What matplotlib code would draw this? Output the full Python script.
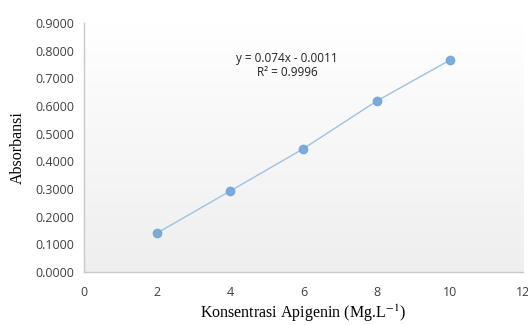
import matplotlib
matplotlib.use("Agg")
import matplotlib.pyplot as plt
import numpy as np

# data
konsentrasi = [2, 4, 6, 8, 10]
absorbansi = [0.141, 0.293, 0.446, 0.618, 0.766]
xticks = [0, 2, 4, 6, 8, 10, 12]
yticks = [0.0, 0.1, 0.2, 0.3, 0.4, 0.5, 0.6, 0.7, 0.8, 0.9]
persamaan = "y = 0.074x - 0.0011\nR² = 0.9996"

plt.rcParams["mathtext.fontset"] = "stix"

fig = plt.figure(figsize=(5.28, 3.25), dpi=100)
ax = fig.add_axes([0.159, 0.163, 0.8315, 0.766])

# gradient background of plot area (white top -> light grey bottom)
t = np.linspace(0.0, 1.0, 256).reshape(-1, 1, 1)
top = np.array([1.0, 1.0, 1.0])
bottom = np.array([0.935, 0.935, 0.935])
grad = bottom + (top - bottom) * t
ax.imshow(grad, extent=[0, 12, 0, 0.9], aspect="auto", origin="lower", zorder=0)

ax.plot(konsentrasi, absorbansi, color="#9cc2e5", lw=1.0, zorder=2)
ax.plot(konsentrasi, absorbansi, "o", ms=6, color="#6fa5d9", alpha=0.9,
        mec="#6fa5d9", zorder=3)

ax.set_xlim(0, 12)
ax.set_ylim(0, 0.9)
ax.set_xticks(xticks)
ax.set_yticks(yticks)
ax.set_yticklabels([f"{v:.4f}" for v in yticks])
ax.tick_params(axis="y", length=0, labelsize=9, colors="#404040", pad=7)
ax.tick_params(axis="x", length=0, labelsize=9, colors="#404040", pad=10)
for lab in ax.get_xticklabels() + ax.get_yticklabels():
    lab.set_family("Open Sans")

for s in ["top", "right"]:
    ax.spines[s].set_visible(False)
for s in ["left", "bottom"]:
    ax.spines[s].set_color("#c8c8c8")
    ax.spines[s].set_linewidth(1.0)

ax.set_ylabel("Absorbansi", family="Liberation Serif", fontsize=11.5, labelpad=7)
ax.set_xlabel("Konsentrasi Apigenin (Mg.L$^{-1}$)", family="Liberation Serif",
              fontsize=11.5, labelpad=3)

ax.text(5.55, 0.745, persamaan, ha="center", va="center", fontsize=8.5,
        family="Open Sans", color="#222222", linespacing=1.1)

fig.savefig("out.png", dpi=100)
